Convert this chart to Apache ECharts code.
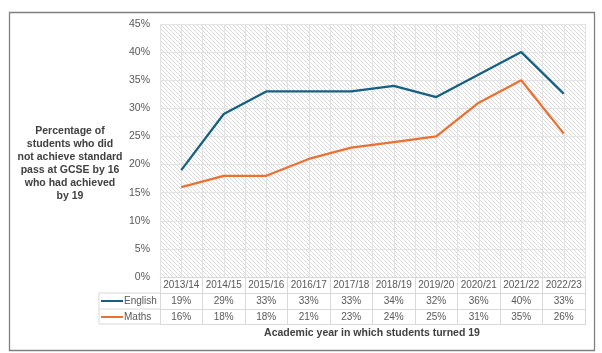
<!DOCTYPE html>
<html>
<head>
<meta charset="utf-8">
<script src="https://cdn.jsdelivr.net/npm/echarts@6/dist/echarts.min.js"></script>
<style>
  html, body { margin: 0; padding: 0; background: #fff; }
  #chart { width: 602px; height: 353px; }
</style>
</head>
<body>
<div id="chart"></div>
<script>
const years = ['2013/14', '2014/15', '2015/16', '2016/17', '2017/18', '2018/19', '2019/20', '2020/21', '2021/22', '2022/23']
const english = [19, 29, 33, 33, 33, 34, 32, 36, 40, 32.6]
const maths = [16, 18, 18, 21, 23, 24, 25, 31, 35, 25.5]
const seriesNames = ['English', 'Maths']
const colors = ['#156082', '#E97132']

const font = 'Liberation Sans, Arial, sans-serif'
const textGrey = '#595959'
const tableLine = '#d9d9d9'

// diagonal hatch used as the plot area fill
const hatch = document.createElement('canvas')
hatch.width = 4
hatch.height = 4
const hctx = hatch.getContext('2d')
hctx.fillStyle = '#ffffff'
hctx.fillRect(0, 0, 4, 4)
hctx.fillStyle = '#d9d9d9'
for (let i = 0; i < 4; i++) hctx.fillRect(i, i, 1, 1)

const pct = (v) => Math.round(v) + '%'

function tableAxis(data, offset) {
  return {
    type: 'category',
    data: data,
    position: 'bottom',
    offset: offset,
    boundaryGap: true,
    axisLine: { show: true, lineStyle: { color: tableLine, width: 1 } },
    axisTick: { show: true, interval: 0, length: 16, lineStyle: { color: tableLine } },
    axisLabel: { interval: 0, margin: 3, fontSize: 10, color: textGrey, fontFamily: font },
    splitLine: { show: false },
  }
}

const chart = echarts.init(document.getElementById('chart'))
chart.setOption({
  animation: false,
  grid: {
    left: 160, right: 17, top: 24, bottom: 76,
    show: true,
    borderWidth: 0,
    backgroundColor: { image: hatch, repeat: 'repeat' },
  },
  legend: {
    data: seriesNames,
    orient: 'vertical',
    left: 101,
    top: 294,
    padding: 0,
    itemWidth: 22,
    itemHeight: 2,
    itemGap: 2,
    icon: 'rect',
    textStyle: { fontSize: 10, color: textGrey, fontFamily: font, lineHeight: 14, padding: [0, 0, 0, -4] },
  },
  xAxis: [
    tableAxis(years, 0),
    tableAxis(english.map(pct), 16),
    tableAxis(maths.map(pct), 32),
    {
      type: 'category',
      data: years,
      position: 'bottom',
      offset: 47,
      axisLine: { show: true, lineStyle: { color: tableLine } },
      axisTick: { show: false },
      axisLabel: { show: false },
    },
    {
      type: 'value',
      min: 0,
      max: 20,
      interval: 1,
      position: 'top',
      axisLine: { show: false },
      axisTick: { show: false },
      axisLabel: { show: false },
      splitLine: { show: true, lineStyle: { color: '#e3e3e3', width: 1 } },
    },
  ],
  yAxis: {
    type: 'value',
    min: 0,
    max: 45,
    interval: 5,
    axisLine: { show: false },
    axisTick: { show: false },
    axisLabel: { formatter: '{value}%', fontSize: 10.5, color: textGrey, fontFamily: font, margin: 10 },
    splitLine: { lineStyle: { color: '#e3e3e3', width: 1 } },
  },
  series: [
    {
      name: seriesNames[0],
      type: 'line',
      data: english,
      symbol: 'none',
      color: colors[0],
      lineStyle: { width: 2.25, color: colors[0] },
      z: 5,
    },
    {
      name: seriesNames[1],
      type: 'line',
      data: maths,
      symbol: 'none',
      color: colors[1],
      lineStyle: { width: 2.25, color: colors[1] },
      z: 5,
    },
  ],
  graphic: [
    {
      type: 'rect',
      shape: { x: 9.5, y: 12.5, width: 585, height: 338 },
      style: { fill: 'none', stroke: '#808080', lineWidth: 1.3 },
      silent: true,
    },
    { type: 'line', shape: { x1: 99, y1: 293, x2: 160, y2: 293 }, style: { stroke: tableLine, lineWidth: 1 } },
    { type: 'line', shape: { x1: 99, y1: 309, x2: 160, y2: 309 }, style: { stroke: tableLine, lineWidth: 1 } },
    { type: 'line', shape: { x1: 99, y1: 324, x2: 160, y2: 324 }, style: { stroke: tableLine, lineWidth: 1 } },
    { type: 'line', shape: { x1: 99, y1: 293, x2: 99, y2: 324 }, style: { stroke: tableLine, lineWidth: 1 } },
    {
      type: 'text',
      x: 70,
      y: 125,
      style: {
        text: 'Percentage of\nstudents who did\nnot achieve standard\npass at GCSE by 16\nwho had achieved\nby 19',
        textAlign: 'center',
        font: 'bold 10.5px ' + font,
        lineHeight: 13,
        fill: '#404040',
      },
    },
    {
      type: 'text',
      x: 372,
      y: 328,
      style: {
        text: 'Academic year in which students turned 19',
        textAlign: 'center',
        font: 'bold 10.5px ' + font,
        fill: '#404040',
      },
    },
  ],
})
</script>
</body>
</html>
